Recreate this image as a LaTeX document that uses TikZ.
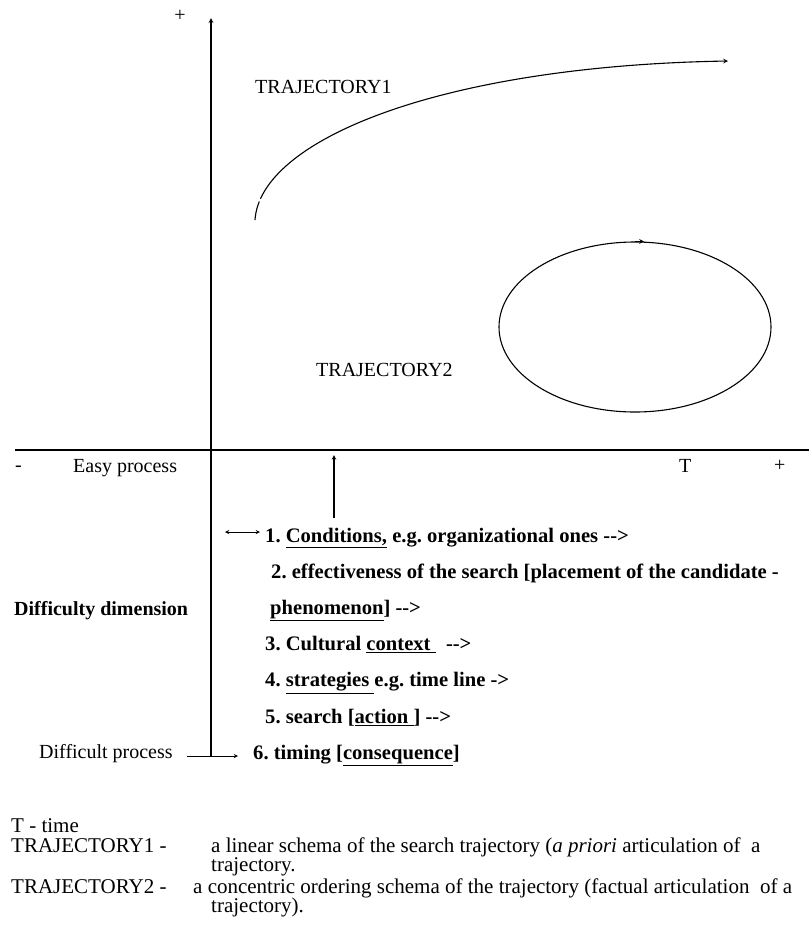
\documentclass[tikz,border=0pt]{standalone}
\usepackage{fontspec}
\setmainfont{Liberation Serif}
\usetikzlibrary{arrows,positioning,shapes.geometric}

\newcommand{\dashto}{-{}->}

\begin{document}
\frenchspacing
\begin{tikzpicture}[
      x=1pt, y=-1pt,
      txt/.style={anchor=base west, inner sep=0pt, font=\fontsize{20}{24}\selectfont},
      legend/.style={anchor=base west, inner sep=0pt, font=\fontsize{21}{20}\selectfont},
      item/.style={inner sep=0pt, anchor=north west, text height=15pt, text depth=5pt, font=\fontsize{20.6}{24}\selectfont\bfseries},
      axis/.style={line width=1.2pt},
      arrow/.style={->, line width=1.1pt, >=stealth},
      orbit/.style={ellipse, draw, line width=1.1pt, minimum width=272pt, minimum height=170pt, inner sep=0pt}
    ]
    \useasboundingbox (0,0) rectangle (809,930);

    % ============ AXES ============
    \coordinate (ybot) at (211,757);
    \coordinate (ytop) at (211,18);
    \coordinate (xleft) at (15,450);
    \coordinate (xright) at (809,450);
    \draw[axis] (xleft) -- (xright);
    \draw[arrow, line width=1.2pt] (ybot) -- (ytop);

    \node[inner sep=0pt, font=\fontsize{20}{24}\selectfont] (yplus) at (180,16) {+};
    \node[txt] (xminus) at (15,471) {-};
    \node[txt] (easy) at (73,472) {Easy process};
    \node[txt] (tlabel) at (679,472) {T};
    \node[txt] (xplus) at (774,471) {+};

    % ============ TRAJECTORIES ============
    \node[txt] (traj1) at (255,93) {TRAJECTORY1};
    \coordinate (t1start) at (255,220);
    \coordinate (t1end) at (728,61);
    \draw[arrow, dash pattern=on 19pt off 3pt on 1000pt] (t1start) .. controls (260,140) and (440,66) .. (t1end);

    \node[txt] (traj2) at (316,376) {TRAJECTORY2};
    \node[orbit] (loop) at (635,327) {};
    \draw[arrow] (loop.north) -- ([xshift=9pt]loop.north);

    % ============ DIFFICULTY DIMENSION ============
    \coordinate (tickbot) at (334,518);
    \coordinate (ticktop) at (334,455);
    \draw[arrow] (tickbot) -- (ticktop);

    \node[item] (c1) at (265,527) {1. \underline{Conditions,} e.g. organizational ones \dashto};
    \coordinate (dblleft) at (225,532);
    \coordinate (dblright) at (260,532);
    \draw[arrow, <->, line width=0.9pt] (dblleft) -- (dblright);

    \node[item, below=16pt of c1.south west, anchor=north west, xshift=6pt] (c2) {2. effectiveness of the search [placement of the candidate -};
    \node[item, below=15pt of c2.south west, anchor=north west, xshift=-1pt] (c2b) {\underline{phenomenon}] \dashto};
    \node[item, below=16pt of c2b.south west, anchor=north west, xshift=-5pt] (c3) {3. Cultural \underline{context\ }\ \ \dashto};
    \node[item, below=16pt of c3.south west, anchor=north west] (c4) {4. \underline{strategies\ }e.g. time line ->};
    \node[item, below=16pt of c4.south west, anchor=north west] (c5) {5. search [\underline{action\ }] \dashto};
    \node[item, below=16pt of c5.south west, anchor=north west, xshift=-12pt] (c6) {6. timing [\underline{consequence}]};

    \node[txt, font=\fontsize{20}{24}\selectfont\bfseries] (dim) at (14,615) {Difficulty dimension};
    \node[txt] (hard) at (39,758) {Difficult process};
    \coordinate (hardleft) at (187,756);
    \coordinate (hardright) at (238,756);
    \draw[arrow, line width=0.9pt] (hardleft) -- (hardright);

    % ============ LEGEND ============
    \node[legend] (lgt) at (11,832) {T - time};
    \node[legend] (lg1) at (11,852) {TRAJECTORY1 -};
    \node[legend] (lg1a) at (211,852) {a linear schema of the search trajectory (\textit{a priori} articulation of\ \ a};
    \node[legend] (lg1b) at (211,871) {trajectory.};
    \node[legend] (lg2) at (11,893) {TRAJECTORY2 -};
    \node[legend] (lg2a) at (193,893) {a concentric ordering schema of the trajectory (factual articulation\ \ of a};
    \node[legend] (lg2b) at (211,912) {trajectory).};

  \end{tikzpicture}
\end{document}
